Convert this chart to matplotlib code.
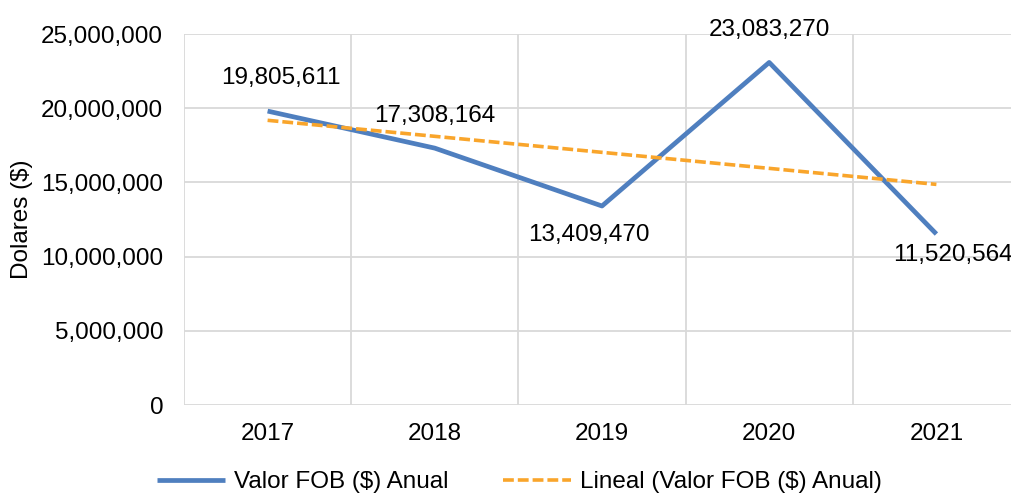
import numpy as np
import matplotlib.pyplot as plt
from matplotlib.ticker import FuncFormatter

plt.rcParams['font.family'] = ['Liberation Sans', 'DejaVu Sans']

# datos
anios = ['2017', '2018', '2019', '2020', '2021']
valor_fob = [19805611, 17308164, 13409470, 23083270, 11520564]

# desplazamientos de etiquetas (pixeles)
offsets = [(13, 33), (0, 32), (-13, -29), (0, 32), (17, -21)]

x = np.arange(len(anios))
pendiente, intercepto = np.polyfit(x, valor_fob, 1)
tendencia = pendiente * x + intercepto

fig = plt.figure(figsize=(10.11, 4.96), dpi=100)
ax = fig.add_axes([184/1011, 1 - 405/496, (1020 - 184)/1011, (405 - 34)/496])

azul = '#4F7FBF'
naranja = '#F9A52B'
gris = '#D9D9D9'
fs = 17.5

ax.plot(x, valor_fob, color=azul, lw=3.4, solid_capstyle='butt', label='Valor FOB ($) Anual', zorder=3)
ax.plot(x, tendencia, color=naranja, lw=2.6, ls=(0, (3.0, 1.1)), label='Lineal (Valor FOB ($) Anual)', zorder=4)

for xi, v, (dx, dy) in zip(x, valor_fob, offsets):
    ax.annotate(f'{v:,}', (xi, v), xytext=(dx, dy), textcoords='offset pixels',
                ha='center', va='center', fontsize=fs, color='black', annotation_clip=False)

ax.set_xlim(-0.5, 4.5)
ax.set_ylim(0, 25000000)
ax.set_yticks(np.arange(0, 25000001, 5000000))
ax.yaxis.set_major_formatter(FuncFormatter(lambda v, p: f'{int(v):,}'))
ax.set_xticks(x)
ax.set_xticklabels(anios)
ax.set_xticks(np.arange(-0.5, 5, 1), minor=True)

ax.grid(True, which='major', axis='y', color=gris, lw=1.3)
ax.grid(True, which='minor', axis='x', color=gris, lw=1.3)
ax.set_axisbelow(True)
for s in ax.spines.values():
    s.set_visible(False)
ax.tick_params(axis='both', which='both', length=0, labelsize=fs)
ax.tick_params(axis='y', pad=15)
ax.tick_params(axis='x', pad=13)

ax.set_ylabel('Dolares ($)', fontsize=fs)
ax.yaxis.set_label_coords(-0.181, 0.5)

fig.legend(loc='center', bbox_to_anchor=(0.514, 0.028), ncol=2, frameon=False,
           fontsize=fs, handlelength=2.8, handletextpad=0.37, columnspacing=2.26)

fig.savefig('out.png', dpi=100)
